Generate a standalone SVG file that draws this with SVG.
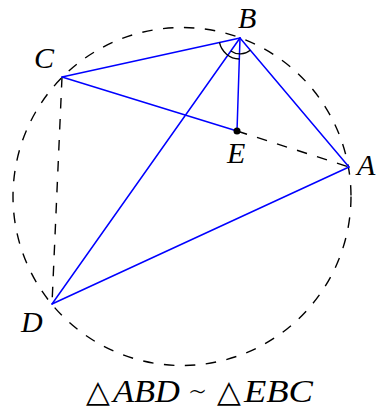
<svg xmlns="http://www.w3.org/2000/svg" width="377" height="410" viewBox="0 0 377 410">
<style>
.blue{stroke:#0000ff;stroke-width:1.5;fill:none;stroke-linecap:round;stroke-linejoin:round}
.dash{stroke:#000;stroke-width:1.4;fill:none;stroke-dasharray:10.5 10.5}
.arc{stroke:#000;stroke-width:1.3;fill:none}
.lbl{font-family:"Liberation Serif","DejaVu Serif",serif;font-style:italic;font-size:30px;fill:#000}
.cap{font-family:"Liberation Serif","DejaVu Serif",serif;font-style:italic;font-size:31px;fill:#000}
.sym{font-family:"DejaVu Sans",sans-serif;font-style:normal}
.tl{font-family:"DejaVu Sans",sans-serif;font-style:normal;font-weight:200;font-size:30px}
</style>
<rect width="377" height="410" fill="#fff"/>
<g id="circle">
<circle class="dash" cx="182" cy="196.5" r="169"/>
</g>
<g id="connectors">
<line class="dash" x1="62" y1="77" x2="52" y2="304"/>
<line class="dash" x1="237" y1="131" x2="349" y2="167"/>
<line class="blue" x1="62" y1="77" x2="240" y2="38"/>
<line class="blue" x1="62" y1="77" x2="237" y2="131"/>
<line class="blue" x1="240" y1="38" x2="237" y2="131"/>
<line class="blue" x1="240" y1="38" x2="349" y2="167"/>
<line class="blue" x1="240" y1="38" x2="52" y2="304"/>
<line class="blue" x1="52" y1="304" x2="349" y2="167"/>
<path class="arc" d="M219.5 42.5 A21 21 0 0 0 239.3 59"/>
<path class="arc" d="M230.8 51 A16 16 0 0 0 250.3 50.2"/>
</g>
<g id="node-B"><text class="lbl" x="238" y="28">B</text></g>
<g id="node-C"><text class="lbl" x="34" y="68">C</text></g>
<g id="node-E">
<circle cx="237" cy="131" r="3.5" fill="#000"/>
<text class="lbl" x="227" y="163">E</text>
</g>
<g id="node-A"><text class="lbl" x="357" y="175">A</text></g>
<g id="node-D"><text class="lbl" x="21" y="332">D</text></g>
<g id="caption">
<text class="cap" y="402"><tspan class="sym" x="86">△</tspan><tspan x="113" textLength="67" lengthAdjust="spacingAndGlyphs">ABD</tspan><tspan class="tl" x="188">∼</tspan><tspan class="sym" x="217">△</tspan><tspan x="244" textLength="69" lengthAdjust="spacingAndGlyphs">EBC</tspan></text>
</g>
</svg>
